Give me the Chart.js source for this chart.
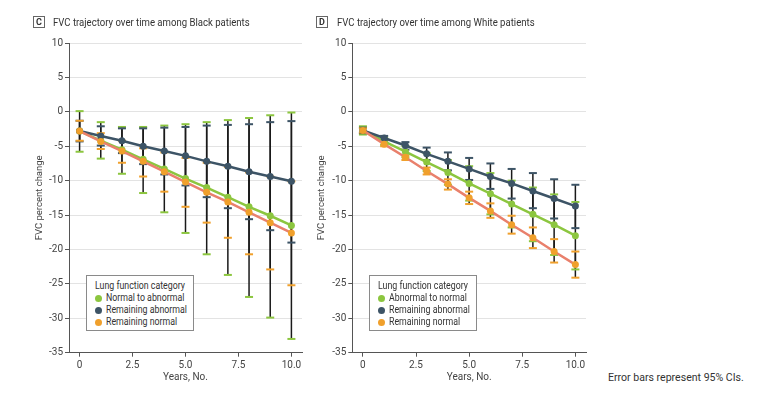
<!DOCTYPE html>
<html>
<head>
<meta charset="utf-8">
<script src="https://cdn.jsdelivr.net/npm/chart.js@4/dist/chart.umd.min.js"></script>
<style>
body { margin:0; background:#fff; width:767px; height:396px; position:relative; overflow:hidden;
  font-family:'Roboto',sans-serif; color:#333; }
canvas { position:absolute; top:0; }
.head { position:absolute; top:16px; font-size:11px; line-height:13px; color:#333; white-space:nowrap;
  transform:scaleX(0.87); transform-origin:left center; }
.tag { position:absolute; top:16px; box-sizing:border-box; border:1px solid #666; width:12px; height:12px; font-weight:bold;
  font-size:9px; line-height:10px; text-align:center; color:#333; }
.legend { position:absolute; box-sizing:border-box; width:108px; height:56px; border:1.5px solid #8a8a8a; background:#fff;
  font-size:10px; color:#333; }
.legend div { position:absolute; white-space:nowrap; line-height:12px; }
.legend span { position:absolute; left:0; top:2.5px; width:7px; height:7px; border-radius:50%; }
.legend i { font-style:normal; position:absolute; left:11px; top:0; transform:scaleX(0.88); transform-origin:left center; }
.note { position:absolute; left:608px; top:371px; font-size:11px; color:#333; white-space:nowrap;
  transform:scaleX(0.96); transform-origin:left center; }
</style>
</head>
<body>
<canvas id="black" width="306" height="396" style="left:0"></canvas>
<canvas id="white" width="280" height="396" style="left:310px"></canvas>
<div class="tag" style="left:33px">C</div>
<div class="head" style="left:53px">FVC trajectory over time among Black patients</div>
<div class="tag" style="left:316px">D</div>
<div class="head" style="left:337px">FVC trajectory over time among White patients</div>
<div class="legend" id="legBlack" style="left:86px;top:275px"></div>
<div class="legend" id="legWhite" style="left:369px;top:275px"></div>
<div class="note">Error bars represent 95% CIs.</div>
<script>
var years = [0, 1, 2, 3, 4, 5, 6, 7, 8, 9, 10];
var xTicks = [0, 2.5, 5, 7.5, 10];
var xTickLabels = ['0', '2.5', '5.0', '7.5', '10.0'];

// Black patients
var blackN2A   = [-2.8, -4.2, -5.5, -6.9, -8.3, -9.7, -11.0, -12.4, -13.8, -15.1, -16.5];
var blackN2AHi = [0.1, -1.5, -2.2, -2.2, -2.0, -1.8, -1.5, -1.2, -0.9, -0.5, -0.1];
var blackN2ALo = [-5.8, -6.8, -9.0, -11.8, -14.6, -17.6, -20.7, -23.7, -26.9, -29.9, -33.0];
var blackAbn   = [-2.8, -3.5, -4.2, -5.0, -5.7, -6.4, -7.2, -7.9, -8.7, -9.4, -10.1];
var blackAbnHi = [-1.3, -2.1, -2.4, -2.4, -2.3, -2.2, -2.0, -1.9, -1.8, -1.5, -1.35];
var blackAbnLo = [-4.3, -4.9, -6.0, -7.6, -9.1, -10.7, -12.4, -14.0, -15.6, -17.2, -19.0];
var blackNorm   = [-2.8, -4.3, -5.7, -7.2, -8.7, -10.2, -11.7, -13.1, -14.6, -16.1, -17.6];
var blackNormHi = [-1.3, -3.1, -4.2, -5.3, -5.9, -6.7, -7.4, -8.0, -8.8, -9.4, -10.1];
var blackNormLo = [-4.2, -5.4, -7.4, -9.4, -11.6, -13.8, -16.1, -18.3, -20.7, -22.9, -25.2];

// White patients
var whiteA2N   = [-2.7, -4.3, -5.8, -7.3, -8.8, -10.4, -11.9, -13.4, -14.9, -16.4, -18.0];
var whiteA2NHi = [-2.1, -3.8, -5.0, -6.0, -7.0, -7.9, -8.9, -10.0, -11.0, -12.0, -13.1];
var whiteA2NLo = [-3.3, -4.8, -6.6, -8.6, -10.6, -12.9, -14.9, -16.8, -18.8, -20.8, -22.9];
var whiteAbn   = [-2.7, -3.8, -4.9, -6.1, -7.2, -8.3, -9.4, -10.4, -11.5, -12.6, -13.7];
var whiteAbnHi = [-2.3, -3.5, -4.4, -5.2, -5.9, -6.7, -7.5, -8.3, -8.9, -9.8, -10.6];
var whiteAbnLo = [-3.1, -4.2, -5.5, -7.0, -8.5, -9.9, -11.2, -12.6, -14.0, -15.5, -16.9];
var whiteNorm   = [-2.7, -4.7, -6.6, -8.6, -10.5, -12.5, -14.4, -16.4, -18.3, -20.3, -22.2];
var whiteNormHi = [-2.4, -4.4, -6.3, -8.1, -9.8, -11.6, -13.3, -15.1, -16.8, -18.5, -20.3];
var whiteNormLo = [-3.0, -5.0, -7.0, -9.1, -11.3, -13.4, -15.4, -17.7, -19.8, -21.9, -24.1];

var green = '#8cc63f', slate = '#3d5466', orange = '#f0a02c', salmon = '#e9806c';
Chart.defaults.font.family = "'Roboto',sans-serif";

// error bars: black stems, caps in the series colour
var errorBars = {
  id: 'errorBars',
  beforeDatasetsDraw: function (chart) {
    var ctx = chart.ctx, x = chart.scales.x, y = chart.scales.y;
    var sets = chart.data.datasets;
    ctx.save();
    ctx.strokeStyle = '#1a1a1a';
    ctx.lineWidth = 1.5;
    sets.forEach(function (ds) {
      ds.data.forEach(function (p, i) {
        var px = x.getPixelForValue(p.x);
        ctx.beginPath();
        ctx.moveTo(px, y.getPixelForValue(ds.hi[i]));
        ctx.lineTo(px, y.getPixelForValue(ds.lo[i]));
        ctx.stroke();
      });
    });
    ctx.lineWidth = 2;
    sets.forEach(function (ds) {
      ctx.strokeStyle = ds.capColor;
      ds.data.forEach(function (p, i) {
        var px = x.getPixelForValue(p.x);
        [ds.hi[i], ds.lo[i]].forEach(function (v) {
          var py = y.getPixelForValue(v);
          ctx.beginPath();
          ctx.moveTo(px - 4, py);
          ctx.lineTo(px + 4, py);
          ctx.stroke();
        });
      });
    });
    ctx.restore();
  }
};

function makeSet(label, mean, hi, lo, lineColor, pointColor, order) {
  return {
    label: label,
    data: years.map(function (x, i) { return { x: x, y: mean[i] }; }),
    hi: hi, lo: lo, capColor: pointColor,
    borderColor: lineColor, borderWidth: 2.5, tension: 0,
    pointRadius: 3.5, pointBackgroundColor: pointColor, pointBorderWidth: 0,
    order: order
  };
}

function makeChart(id, sets, yWidth, yTitlePad, padRight) {
  return new Chart(document.getElementById(id), {
    type: 'line',
    data: { datasets: sets },
    options: {
      responsive: false,
      animation: false,
      layout: { padding: { top: 43, right: padRight, bottom: 0, left: 0 } },
      plugins: { legend: { display: false }, tooltip: { enabled: false } },
      scales: {
        x: {
          type: 'linear', min: -0.5, max: 10.5,
          afterBuildTicks: function (s) { s.ticks = xTicks.map(function (v) { return { value: v }; }); },
          afterFit: function (s) { s.height = 43.3; },
          ticks: {
            callback: function (v) { return xTickLabels[xTicks.indexOf(v)]; },
            color: '#444', font: { size: 10 }, padding: 3, maxRotation: 0, autoSkip: false
          },
          grid: { drawOnChartArea: false, drawTicks: true, tickLength: 4, color: '#555' },
          border: { color: '#555' },
          title: { display: true, text: 'Years, No.', color: '#444', font: { size: 10 }, padding: { top: 0, bottom: 13 } }
        },
        y: {
          min: -35, max: 10,
          afterFit: function (s) { s.width = yWidth; },
          ticks: { stepSize: 5, color: '#444', font: { size: 10 }, padding: 2 },
          grid: { color: '#e3e3e3', tickColor: '#555', tickLength: 4 },
          border: { color: '#555' },
          title: { display: true, text: 'FVC percent change', color: '#444', font: { size: 9.5 }, padding: { top: yTitlePad, bottom: 0 } }
        }
      }
    },
    plugins: [errorBars]
  });
}

var blackSets = [
  makeSet('Normal to abnormal', blackN2A, blackN2AHi, blackN2ALo, green, green, 2),
  makeSet('Remaining abnormal', blackAbn, blackAbnHi, blackAbnLo, slate, slate, 1),
  makeSet('Remaining normal', blackNorm, blackNormHi, blackNormLo, salmon, orange, 0)
];
var whiteSets = [
  makeSet('Abnormal to normal', whiteA2N, whiteA2NHi, whiteA2NLo, green, green, 2),
  makeSet('Remaining abnormal', whiteAbn, whiteAbnHi, whiteAbnLo, slate, slate, 1),
  makeSet('Remaining normal', whiteNorm, whiteNormHi, whiteNormLo, salmon, orange, 0)
];

makeChart('black', blackSets, 69, 34, 2);
makeChart('white', whiteSets, 42.3, 6, 3.3);

function fillLegend(id, sets) {
  var box = document.getElementById(id);
  var html = '<div style="top:4px;left:8px"><i style="left:0">Lung function category</i></div>';
  sets.forEach(function (ds, i) {
    html += '<div style="top:' + (16 + i * 12) + 'px;left:7.5px"><span style="background:' + ds.capColor + '"></span><i>' + ds.label + '</i></div>';
  });
  box.innerHTML = html;
}
fillLegend('legBlack', blackSets);
fillLegend('legWhite', whiteSets);
</script>
</body>
</html>
